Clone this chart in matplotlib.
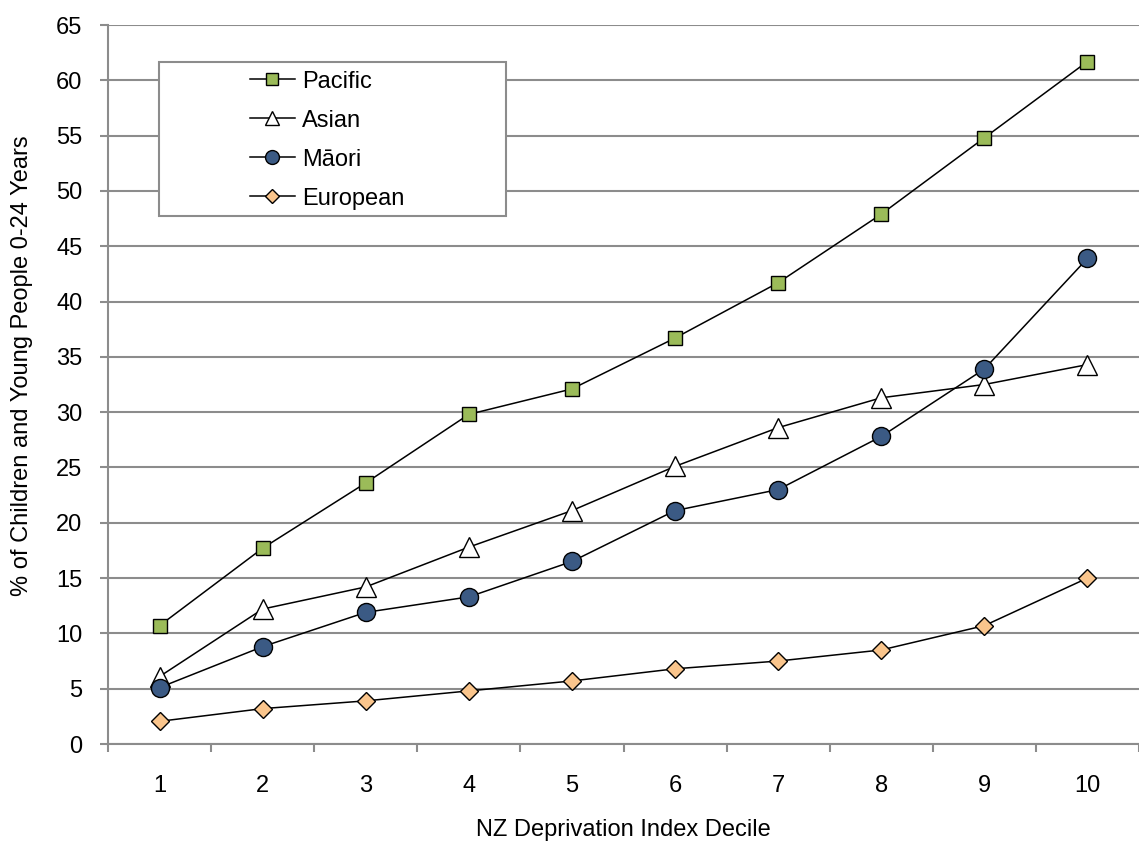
import matplotlib
matplotlib.use("Agg")
import matplotlib.pyplot as plt
from matplotlib.patches import Rectangle

plt.rcParams['font.family'] = ['Liberation Sans', 'DejaVu Sans']

deciles = [1, 2, 3, 4, 5, 6, 7, 8, 9, 10]
pacific = [10.7, 17.7, 23.6, 29.8, 32.1, 36.7, 41.7, 47.9, 54.8, 61.7]
asian = [6.1, 12.2, 14.2, 17.8, 21.1, 25.1, 28.6, 31.3, 32.5, 34.3]
maori = [5.1, 8.8, 11.9, 13.3, 16.5, 21.1, 23.0, 27.8, 33.9, 43.9]
european = [2.05, 3.2, 3.9, 4.8, 5.7, 6.8, 7.5, 8.5, 10.7, 15.0]

grey = '#8c8c8c'
fs = 17

fig = plt.figure(figsize=(11.39, 8.46), dpi=100)
ax = fig.add_axes([108/1139, 1 - 744/846, 1031/1139, 719/846])

ax.plot(deciles, pacific, color='black', lw=1.1, marker='s', ms=10.5,
        mfc='#9bbb59', mec='black', mew=1.0, label='Pacific', zorder=3)
ax.plot(deciles, asian, color='black', lw=1.1, marker='^', ms=14,
        mfc='white', mec='black', mew=1.0, label='Asian', zorder=3)
ax.plot(deciles, maori, color='black', lw=1.1, marker='o', ms=13,
        mfc='#3b5a84', mec='black', mew=1.0, label='Māori', zorder=3)
ax.plot(deciles, european, color='black', lw=1.1, marker='D', ms=9.2,
        mfc='#fac58c', mec='black', mew=1.0, label='European', zorder=3)

ax.set_xlim(0.5, 0.5 + 1031/104.3)
ax.set_ylim(0, 65)
ax.set_yticks(range(0, 70, 5))
ax.set_xticks(deciles)
ax.set_xticks([x + 0.5 for x in range(0, 11)], minor=True)

ax.yaxis.grid(True, color=grey, lw=1.5)
ax.set_axisbelow(True)
for s in ['top', 'right']:
    ax.spines[s].set_visible(False)
for s in ['left', 'bottom']:
    ax.spines[s].set_color(grey)
    ax.spines[s].set_linewidth(1.5)

ax.tick_params(axis='y', length=5.8, width=1.5, color=grey, pad=12.5,
               labelsize=fs)
ax.tick_params(axis='x', which='major', length=0, pad=22.5, labelsize=fs)
ax.tick_params(axis='x', which='minor', length=5.8, width=1.5, color=grey)

ax.set_xlabel('NZ Deprivation Index Decile', fontsize=fs)
ax.set_ylabel('% of Children and Young People 0-24 Years', fontsize=fs)
ax.xaxis.set_label_coords(0.5, (744 - 819) / 719)
ax.yaxis.set_label_coords((33 - 108) / 1031, (744 - 366) / 719)

# legend frame drawn separately so the entries sit inside a wide box
x0 = (159 - 108) / 1031
x1 = (506 - 108) / 1031
y0 = (744 - 216) / 719
y1 = (744 - 62) / 719
ax.add_patch(Rectangle((x0, y0), x1 - x0, y1 - y0, transform=ax.transAxes,
                       facecolor='white', edgecolor=grey, lw=1.5, zorder=4))
leg = ax.legend(loc='center left',
                bbox_to_anchor=((250 - 108) / 1031, (744 - 140) / 719),
                frameon=False, fontsize=fs, handlelength=1.9,
                handletextpad=0.3, labelspacing=0.72, borderpad=0,
                borderaxespad=0)
leg.set_zorder(5)
for h, m in zip(leg.legend_handles, [8.5, 10.5, 10, 7.5]):
    h.set_markersize(m)

fig.savefig('out.png', dpi=100)
